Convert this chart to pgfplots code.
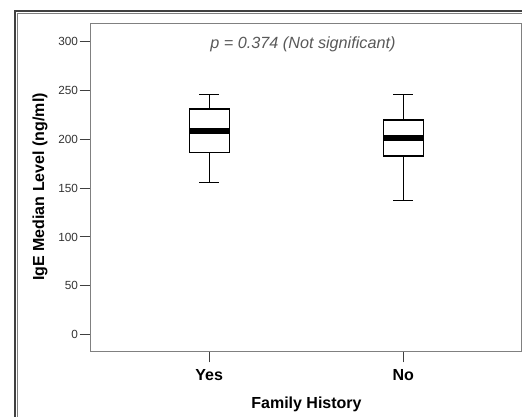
\documentclass[border=0pt]{standalone}
\usepackage{pgfplots}
\pgfplotsset{compat=1.18}
\usepgfplotslibrary{statistics}
\usepackage{fontspec}
\setmainfont{Liberation Sans}
\begin{document}
\begin{tikzpicture}
\begin{axis}[
  at={(90.7pt,65.7pt)}, anchor=south west,
  scale only axis, width=430.3pt, height=327.3pt,
  xmin=-0.611, xmax=1.607, ymin=-17, ymax=318,
  xtick={0,1}, xticklabels={Yes,No},
  ytick={0,50,...,300},
  tick align=outside, xtick pos=bottom, ytick pos=left,
  major tick length=11pt,
  tick style={black!75, line width=1pt},
  axis line style={black!50, line width=1pt},
  /pgf/number format/assume math mode=true,
  yticklabel style={font=\fontsize{11.8}{12}\selectfont, text=black!80, inner sep=1.5pt},
  xticklabel style={font=\fontsize{16}{18}\selectfont\bfseries, text=black, inner sep=2pt, yshift=-5pt},
  xlabel={Family History},
  ylabel={IgE Median Level (ng/ml)},
  xlabel style={font=\fontsize{16}{18}\selectfont\bfseries, at={(axis description cs:0.5015,-0.161)}, anchor=center},
  ylabel style={font=\fontsize{16}{18}\selectfont\bfseries, at={(axis description cs:-0.118,0.502)}, anchor=center, rotate=0},
  boxplot/box extend=0.206,
  boxplot/whisker extend=0.103,
  boxplot/every median/.style={line width=6pt},
  boxplot/draw direction=y,
]
\addplot+[boxplot prepared={median=208.8, upper quartile=231.1, lower quartile=186.3, upper whisker=246.1, lower whisker=156.0, draw position=0}, draw=black, fill=white, line width=1.3pt, solid, mark=none] coordinates {};
\addplot+[boxplot prepared={median=201.4, upper quartile=219.8, lower quartile=183.0, upper whisker=245.7, lower whisker=137.6, draw position=1}, draw=black, fill=white, line width=1.3pt, solid, mark=none] coordinates {};
\node[anchor=base, text=black!65, font=\fontsize{16.2}{18}\selectfont\itshape, inner sep=0pt] at (axis cs:0.483,292.8) {p = 0.374 (Not significant)};
\end{axis}
\draw[black!75, line width=1.3pt] (15pt,0pt) -- (15pt,406pt) -- (522pt,406pt);
\draw[black!50, line width=0.8pt] (17.3pt,0pt) -- (17.3pt,403.7pt) -- (522pt,403.7pt);
\pgfresetboundingbox
\path[use as bounding box] (0pt,0pt) rectangle (522pt,417pt);
\end{tikzpicture}
\end{document}
